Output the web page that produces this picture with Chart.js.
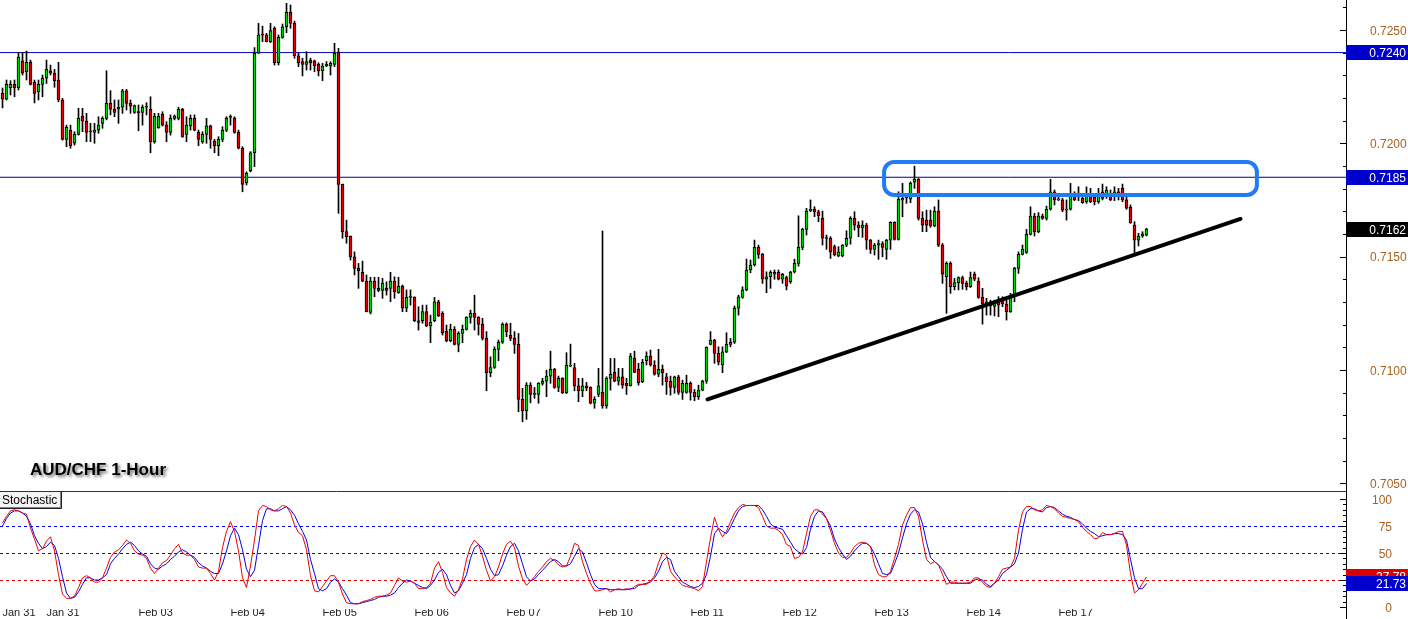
<!DOCTYPE html>
<html>
<head>
<meta charset="utf-8">
<title>AUD/CHF 1-Hour</title>
<script src="https://cdn.jsdelivr.net/npm/chart.js@4.4.0/dist/chart.umd.min.js"></script>
<style>
    html, body { margin: 0; padding: 0; background: #ffffff; }
    #wrap { position: relative; width: 1408px; height: 619px; overflow: hidden; }
    canvas { display: block; }
</style>
</head>
<body>
<div id="wrap">
    <canvas id="priceChart" width="1408" height="491"></canvas>
    <canvas id="stochChart" width="1408" height="128"></canvas>
</div>
<script>
// ---------------------------------------------
// AUD/CHF 1-HOUR BARS
// ---------------------------------------------
const openP = [
    .72220, .72195, .72245, .72260, .72245, .72364, .72316, .72357, .72269, .72227,
    .72260, .72287, .72319, .72309, .72279, .72191, .72017, .72058, .72000, .72039,
    .72120, .72098, .72051, .72048, .72058, .72088, .72110, .72176, .72150, .72150,
    .72159, .72231, .72176, .72136, .72136, .72136, .72159, .72150, .72007, .72069,
    .72128, .72080, .72048, .72110, .72110, .72150, .72039, .72077, .72110, .72048,
    .72007, .72039, .72077, .72010, .71989, .72017, .72058, .72114, .72110, .72048,
    .71978, .71826, .71879, .71958, .72397, .72478, .72478, .72448, .72507, .72355,
    .72467, .72514, .72578, .72529, .72386, .72360, .72348, .72367, .72364, .72348,
    .72319, .72341, .72341, .72348, .72401, .71819, .71610, .71591, .71499, .71448,
    .71431, .71392, .71254, .71392, .71360, .71351, .71360, .71360, .71392, .71341,
    .71370, .71272, .71320, .71320, .71217, .71217, .71257, .71194, .71217, .71301,
    .71250, .71172, .71129, .71179, .71113, .71161, .71179, .71232, .71250, .71232,
    .71201, .71139, .70988, .71011, .71091, .71122, .71201, .71154, .71139, .71113,
    .70870, .70820, .70933, .70892, .70892, .70941, .70951, .70973, .71003, .70923,
    .70963, .70899, .71017, .71011, .70930, .70908, .70930, .70923, .70853, .70892,
    .70901, .70841, .70963, .70989, .70951, .70970, .70941, .70930, .71051, .71003,
    .70948, .71041, .71061, .71022, .70981, .71003, .70970, .70951, .70923, .70970,
    .70901, .70901, .70941, .70901, .70882, .70911, .70951, .71113, .71132, .71073,
    .71022, .71080, .71113, .71122, .71272, .71320, .71353, .71441, .71463, .71541,
    .71510, .71400, .71411, .71422, .71431, .71400, .71407, .71389, .71432, .71470,
    .71541, .71620, .71701, .71709, .71698, .71669, .71581, .71581, .71544, .71503,
    .71503, .71551, .71581, .71669, .71639, .71627, .71639, .71573, .71532, .71551,
    .71558, .71532, .71573, .71651, .71576, .71749, .71760, .71753, .71828, .71841,
    .71669, .71661, .71661, .71635, .71701, .71551, .71411, .71470, .71367, .71385,
    .71407, .71382, .71367, .71423, .71392, .71320, .71282, .71301, .71280, .71308,
    .71308, .71291, .71257, .71323, .71448, .71510, .71519, .71598, .71679, .71610,
    .71679, .71669, .71709, .71786, .71750, .71751, .71705, .71709, .71779, .71764,
    .71757, .71742, .71779, .71764, .71742, .71786, .71764, .71779, .71764, .71786,
    .71801, .71750, .71717, .71639, .71573, .71591, .71595
];
const highP = [
    .72244, .72279, .72276, .72279, .72401, .72401, .72407, .72367, .72279, .72279,
    .72301, .72367, .72345, .72326, .72357, .72198, .72080, .72080, .72051, .72154,
    .72154, .72132, .72088, .72088, .72117, .72117, .72320, .72232, .72191, .72191,
    .72238, .72238, .72191, .72169, .72169, .72169, .72179, .72205, .72132, .72132,
    .72139, .72095, .72125, .72125, .72159, .72154, .72117, .72125, .72125, .72058,
    .72051, .72110, .72080, .72017, .72029, .72073, .72117, .72125, .72117, .72058,
    .71985, .71874, .71963, .72422, .72529, .72517, .72485, .72529, .72514, .72478,
    .72526, .72617, .72610, .72539, .72397, .72375, .72404, .72375, .72367, .72355,
    .72353, .72360, .72360, .72441, .72419, .71820, .71661, .71591, .71521, .71470,
    .71480, .71419, .71409, .71409, .71409, .71404, .71389, .71431, .71411, .71409,
    .71375, .71353, .71353, .71323, .71279, .71286, .71286, .71242, .71320, .71308,
    .71257, .71198, .71202, .71191, .71169, .71198, .71235, .71264, .71330, .71235,
    .71228, .71169, .71058, .71102, .71132, .71208, .71208, .71206, .71169, .71161,
    .70919, .70944, .70944, .70923, .70944, .70963, .70999, .71083, .71007, .70973,
    .70966, .71076, .71114, .71029, .70963, .70963, .70945, .70926, .70882, .71007,
    .71613, .70970, .71051, .71051, .71007, .71007, .70963, .71073, .71083, .71029,
    .71047, .71080, .71088, .71041, .71091, .71022, .70985, .70973, .70973, .70977,
    .70955, .70977, .70948, .70914, .70933, .70955, .71102, .71169, .71135, .71102,
    .71102, .71164, .71139, .71282, .71330, .71367, .71489, .71485, .71573, .71551,
    .71514, .71433, .71438, .71441, .71441, .71426, .71414, .71435, .71489, .71680,
    .71625, .71713, .71750, .71720, .71705, .71701, .71595, .71588, .71551, .71544,
    .71553, .71614, .71676, .71698, .71654, .71658, .71647, .71576, .71558, .71573,
    .71566, .71576, .71654, .71654, .71786, .71823, .71779, .71830, .71899, .71845,
    .71698, .71705, .71705, .71720, .71750, .71558, .71477, .71477, .71404, .71411,
    .71414, .71392, .71432, .71432, .71407, .71360, .71316, .71308, .71308, .71323,
    .71323, .71316, .71338, .71453, .71521, .71551, .71620, .71720, .71691, .71694,
    .71688, .71723, .71841, .71794, .71779, .71757, .71750, .71823, .71786, .71808,
    .71779, .71808, .71801, .71779, .71801, .71820, .71808, .71794, .71808, .71801,
    .71820, .71764, .71728, .71654, .71603, .71610, .71625
];
const lowP = [
    .72156, .72191, .72213, .72205, .72235, .72301, .72279, .72257, .72178, .72191,
    .72205, .72264, .72301, .72247, .72183, .72014, .71985, .71978, .71992, .72036,
    .72051, .72007, .72007, .72000, .72044, .72066, .72103, .72125, .72117, .72088,
    .72132, .72147, .72132, .72132, .72055, .72080, .72125, .71958, .72000, .72066,
    .72076, .72007, .72036, .72103, .72103, .72026, .72007, .72058, .72055, .71989,
    .72000, .72000, .71978, .71958, .71945, .72007, .72051, .72080, .72044, .71975,
    .71786, .71816, .71874, .71897, .72396, .72448, .72447, .72444, .72345, .72345,
    .72463, .72488, .72507, .72375, .72338, .72297, .72323, .72323, .72316, .72297,
    .72276, .72338, .72301, .72338, .71691, .71581, .71559, .71485, .71419, .71360,
    .71389, .71256, .71247, .71323, .71345, .71316, .71330, .71301, .71316, .71338,
    .71257, .71257, .71286, .71213, .71176, .71206, .71191, .71120, .71213, .71235,
    .71154, .71124, .71124, .71110, .71080, .71120, .71176, .71206, .71176, .71154,
    .71132, .70908, .70970, .71007, .71041, .71117, .71147, .71129, .71073, .70816,
    .70771, .70782, .70855, .70875, .70853, .70933, .70882, .70941, .70919, .70904,
    .70896, .70896, .71014, .70908, .70860, .70882, .70908, .70850, .70831, .70882,
    .70831, .70831, .70911, .70948, .70933, .70919, .70892, .70929, .70988, .70933,
    .70944, .71022, .71017, .70977, .70970, .70933, .70892, .70889, .70897, .70892,
    .70870, .70897, .70867, .70864, .70870, .70908, .70941, .71110, .71029, .71022,
    .70988, .71076, .71102, .71117, .71242, .71316, .71349, .71429, .71458, .71492,
    .71382, .71341, .71360, .71400, .71397, .71382, .71353, .71382, .71428, .71458,
    .71530, .71595, .71698, .71676, .71654, .71551, .71532, .71492, .71503, .71499,
    .71499, .71544, .71555, .71617, .71588, .71585, .71532, .71514, .71507, .71488,
    .71499, .71488, .71532, .71573, .71573, .71676, .71735, .71738, .71801, .71661,
    .71610, .71610, .71629, .71632, .71544, .71382, .71250, .71338, .71353, .71353,
    .71356, .71353, .71364, .71393, .71316, .71202, .71242, .71242, .71238, .71235,
    .71279, .71220, .71254, .71301, .71426, .71507, .71514, .71595, .71591, .71605,
    .71664, .71661, .71705, .71728, .71747, .71698, .71661, .71705, .71747, .71747,
    .71735, .71735, .71738, .71728, .71735, .71750, .71757, .71747, .71747, .71750,
    .71742, .71709, .71647, .71514, .71547, .71585, .71591
];
const closeP = [
    .72195, .72260, .72260, .72245, .72379, .72309, .72357, .72260, .72220, .72260,
    .72287, .72326, .72309, .72276, .72191, .72017, .72070, .71989, .72039, .72110,
    .72098, .72048, .72050, .72058, .72080, .72110, .72176, .72150, .72136, .72159,
    .72231, .72176, .72164, .72166, .72135, .72159, .72160, .72007, .72120, .72120,
    .72080, .72048, .72110, .72120, .72150, .72029, .72080, .72110, .72058, .72017,
    .72039, .72077, .72017, .71989, .72017, .72058, .72110, .72115, .72048, .71978,
    .71819, .71867, .71958, .72397, .72478, .72477, .72448, .72497, .72355, .72467,
    .72514, .72578, .72529, .72386, .72355, .72348, .72360, .72355, .72341, .72319,
    .72341, .72348, .72353, .72397, .71819, .71610, .71588, .71499, .71448, .71438,
    .71392, .71257, .71392, .71360, .71351, .71382, .71351, .71392, .71345, .71370,
    .71272, .71320, .71321, .71217, .71210, .71257, .71194, .71210, .71301, .71239,
    .71164, .71129, .71179, .71113, .71161, .71179, .71232, .71250, .71232, .71201,
    .71139, .70988, .71011, .71091, .71122, .71201, .71169, .71139, .71113, .70870,
    .70820, .70933, .70892, .70893, .70941, .70951, .70973, .71003, .70923, .70963,
    .70899, .71022, .71018, .70930, .70908, .70930, .70921, .70853, .70870, .70930,
    .70841, .70963, .70981, .70951, .70970, .70933, .70930, .71061, .70989, .70944,
    .71034, .71061, .71022, .70981, .71003, .70988, .70948, .70923, .70970, .70901,
    .70941, .70941, .70901, .70882, .70911, .70951, .71100, .71132, .71073, .71034,
    .71080, .71113, .71122, .71272, .71323, .71353, .71441, .71463, .71541, .71510,
    .71400, .71411, .71431, .71431, .71400, .71422, .71370, .71432, .71470, .71541,
    .71620, .71701, .71709, .71698, .71679, .71581, .71580, .71521, .71507, .71521,
    .71551, .71581, .71669, .71639, .71627, .71639, .71573, .71532, .71551, .71558,
    .71541, .71573, .71651, .71576, .71753, .71757, .71759, .71823, .71841, .71669,
    .71639, .71639, .71635, .71701, .71551, .71422, .71470, .71367, .71385, .71407,
    .71382, .71367, .71407, .71400, .71320, .71291, .71301, .71282, .71301, .71286,
    .71291, .71257, .71323, .71448, .71510, .71532, .71598, .71679, .71610, .71679,
    .71669, .71709, .71786, .71750, .71751, .71705, .71709, .71779, .71750, .71763,
    .71738, .71779, .71742, .71742, .71779, .71757, .71794, .71750, .71786, .71764,
    .71750, .71714, .71649, .71573, .71591, .71600, .71620
];

// Stochastic: main line (red) and signal line (blue)
const stochMain = [
    78, 84, 89, 90, 89, 87, 86, 73, 63, 52,   54, 61, 65, 52, 30, 12, 8, 8, 10, 18,
    27, 29, 27, 23, 23, 27, 36, 46, 51, 53,   57, 62, 59, 52, 49, 48, 45, 36, 31, 36,
    41, 43, 48, 54, 58, 50, 48, 48, 44, 37,   36, 36, 31, 25, 33, 55, 70, 79, 70, 52,
    27, 18, 38, 62, 89, 94, 93, 90, 89, 91,   94, 93, 87, 76, 69, 66, 53, 29, 15, 14,
    19, 24, 29, 29, 23, 12, 4, 3, 3, 3,       5, 6, 7, 9, 10, 10, 11, 13, 20, 27,
    24, 23, 24, 22, 17, 17, 18, 22, 36, 42,   32, 18, 13, 10, 16, 26, 44, 56, 62, 58,
    47, 34, 24, 28, 37, 49, 58, 61, 55, 38,   26, 20, 24, 28, 33, 37, 42, 45, 43, 39,
    37, 38, 47, 59, 57, 42, 31, 22, 15, 15,   16, 17, 14, 16, 17, 16, 17, 16, 19, 21,
    21, 21, 24, 29, 41, 50, 48, 33, 28, 24,   20, 19, 18, 17, 15, 19, 42, 64, 83, 72,
    65, 70, 79, 87, 92, 95, 94, 94, 94, 92,   84, 75, 73, 73, 71, 67, 58, 56, 45, 46,
    51, 68, 84, 90, 90, 86, 82, 71, 59, 50,   46, 46, 50, 56, 59, 60, 59, 56, 39, 30,
    28, 28, 33, 45, 58, 76, 85, 92, 92, 84,   62, 44, 40, 42, 39, 30, 21, 23, 23, 22,
    22, 22, 23, 27, 27, 23, 19, 18, 22, 28,   35, 36, 37, 45, 71, 88, 93, 93, 90, 89,
    90, 94, 93, 91, 87, 84, 83, 82, 81, 79,   74, 70, 67, 63, 64, 69, 67, 67, 68, 70,
    70, 57, 31, 13, 16, 22, 27.78
];
const stochSignal = [
    75, 82, 87, 89, 89, 87, 84, 77, 66, 59,   54, 56, 60, 57, 45, 28, 13, 8, 9, 14,
    21, 27, 27, 25, 25, 27, 30, 40, 45, 49,   54, 58, 60, 57, 52, 49, 47, 40, 36, 35,
    38, 40, 44, 47, 51, 53, 51, 48, 46, 41,   38, 36, 33, 31, 31, 40, 52, 66, 73, 67,
    53, 35, 28, 34, 57, 80, 91, 91, 89, 89,   91, 93, 90, 85, 77, 70, 62, 44, 31, 17,
    15, 17, 23, 26, 23, 17, 11, 4, 3, 3,      4, 5, 6, 7, 9, 10, 10, 11, 13, 18,
    22, 25, 24, 22, 20, 18, 17, 20, 25, 32,   35, 30, 20, 13, 15, 22, 30, 45, 55, 58,
    54, 45, 35, 29, 30, 38, 48, 56, 59, 52,   40, 28, 24, 26, 30, 34, 38, 42, 44, 42,
    38, 38, 40, 47, 54, 51, 41, 30, 21, 17,   17, 17, 16, 16, 16, 16, 16, 17, 17, 20,
    21, 22, 23, 27, 33, 42, 46, 44, 33, 28,   23, 21, 19, 18, 19, 22, 30, 47, 68, 73,
    70, 68, 74, 82, 89, 93, 94, 94, 94, 94,   90, 84, 77, 74, 73, 72, 66, 60, 54, 51,
    49, 55, 72, 84, 89, 88, 82, 75, 63, 55,   49, 44, 47, 52, 56, 59, 59, 56, 49, 40,
    31, 30, 31, 40, 50, 64, 77, 86, 90, 88,   77, 60, 46, 42, 39, 35, 28, 22, 22, 22,
    22, 22, 22, 25, 26, 25, 21, 19, 22, 25,   31, 34, 37, 40, 50, 72, 88, 91, 91, 89,
    88, 92, 93, 92, 89, 86, 84, 83, 81, 80,   77, 73, 70, 68, 65, 66, 67, 67, 68, 68,
    67, 62, 44, 27, 17, 17, 21.73
];

// bottom axis: bar where each date label starts
const dateBars = [0, 11, 34, 57, 80, 103, 126, 149, 172, 195, 218, 241, 264];
const dateLabels = ["Jan 31", "Jan 31", "Feb 03", "Feb 04", "Feb 05", "Feb 06", "Feb 07",
                    "Feb 10", "Feb 11", "Feb 12", "Feb 13", "Feb 14", "Feb 17"];

const priceTicks = [0.7050, 0.7100, 0.7150, 0.7200, 0.7250];
const stochTicks = [0, 25, 50, 75, 100];
const stochLevels = [75, 50, 25];

// drawn objects
const levelLines = [0.7240, 0.7185];
const lastPrice = 0.7162;
const trendStart = { bar: 176.25, price: 0.70870 };
const trendEnd = { bar: 309.5, price: 0.71666 };
const zone = { fromBar: 220.4, toBar: 313.6, low: 0.71772, high: 0.71917 };

// ---------------------------------------------
// VIEW SETTINGS
// ---------------------------------------------
const barMin = -0.625, barMax = 335.875;
const priceMin = 0.70466, priceMax = 0.72632;
const stochMin = -1.85, stochMax = 107.41;

const FONT = '"Liberation Sans", Arial, sans-serif';
const axisText = "#a8621f";
const upColor = "#00d000";
const downColor = "#e00000";

const bars = openP.map((_, i) => i);

function drawTicks(ctx, scale, values, isMajor, x) {
    ctx.save();
    ctx.strokeStyle = "#000";
    ctx.lineWidth = 1;
    values.forEach(v => {
        const y = Math.round(scale.getPixelForValue(v)) + 0.5;
        const len = isMajor(v) ? 6 : 3;
        ctx.beginPath();
        ctx.moveTo(x - len, y);
        ctx.lineTo(x, y);
        ctx.stroke();
    });
    ctx.restore();
}

function axisLabels(ctx, scale, values, fmt, x, align) {
    ctx.save();
    ctx.fillStyle = axisText;
    ctx.font = "12px " + FONT;
    ctx.textAlign = align;
    ctx.textBaseline = "middle";
    values.forEach(v => ctx.fillText(fmt(v), x, scale.getPixelForValue(v) + 1.5));
    ctx.restore();
}

function valueBox(ctx, y, h, bg, text) {
    ctx.save();
    ctx.fillStyle = bg;
    ctx.fillRect(1346, Math.round(y - h / 2), 62, h);
    ctx.fillStyle = "#ffffff";
    ctx.font = "12px " + FONT;
    ctx.textAlign = "right";
    ctx.textBaseline = "middle";
    ctx.fillText(text, 1406, y + 1);
    ctx.restore();
}

// ---------------------------------------------
// PRICE PANEL DECORATION
// ---------------------------------------------
const priceDecor = {
    id: "priceDecor",
    afterDatasetsDraw(chart) {
        const { ctx, scales: { x, y } } = chart;
        // resistance zone
        const x0 = x.getPixelForValue(zone.fromBar), x1 = x.getPixelForValue(zone.toBar);
        const y0 = y.getPixelForValue(zone.high), y1 = y.getPixelForValue(zone.low);
        ctx.save();
        ctx.strokeStyle = "#1f7cf5";
        ctx.lineWidth = 4;
        ctx.beginPath();
        ctx.roundRect(x0, y0, x1 - x0, y1 - y0, 10);
        ctx.stroke();
        ctx.restore();

        // title
        ctx.save();
        ctx.font = "bold 17px " + FONT;
        ctx.textBaseline = "alphabetic";
        ctx.shadowColor = "rgba(0,0,0,0.55)";
        ctx.shadowBlur = 3;
        ctx.shadowOffsetX = 2;
        ctx.shadowOffsetY = 2;
        ctx.fillStyle = "#000";
        ctx.fillText("AUD/CHF 1-Hour", 30, 475);
        ctx.restore();
    },
    afterDraw(chart) {
        const { ctx, scales: { y } } = chart;
        ctx.save();
        ctx.strokeStyle = "#000";
        ctx.beginPath();
        ctx.moveTo(1346.5, 0);
        ctx.lineTo(1346.5, 491);
        ctx.stroke();
        ctx.restore();
        const minor = [];
        for (let k = 705; k <= 726; k++) minor.push(k / 1000);
        drawTicks(ctx, y, minor, v => Math.round(v * 1000) % 5 === 0, 1346);
        axisLabels(ctx, y, priceTicks, v => v.toFixed(4), 1370, "left");
        valueBox(ctx, y.getPixelForValue(levelLines[0]), 15, "#0000cc", levelLines[0].toFixed(4));
        valueBox(ctx, y.getPixelForValue(levelLines[1]), 15, "#0000cc", levelLines[1].toFixed(4));
        valueBox(ctx, y.getPixelForValue(lastPrice), 15, "#000000", lastPrice.toFixed(4));
    }
};

// ---------------------------------------------
// STOCHASTIC PANEL DECORATION
// ---------------------------------------------
const stochDecor = {
    id: "stochDecor",
    beforeDatasetsDraw(chart) {
        const { ctx, chartArea, scales: { y } } = chart;
        const colors = { 75: "#0000ff", 50: "#222222", 25: "#e00000" };
        ctx.save();
        ctx.lineWidth = 1;
        ctx.setLineDash([3, 3]);
        stochLevels.forEach(v => {
            const py = Math.round(y.getPixelForValue(v)) + 0.5;
            ctx.strokeStyle = colors[v];
            ctx.beginPath();
            ctx.moveTo(chartArea.left, py);
            ctx.lineTo(chartArea.right - 4, py);
            ctx.stroke();
        });
        ctx.restore();
    },
    afterDraw(chart) {
        const { ctx, scales: { y } } = chart;
        ctx.save();
        ctx.strokeStyle = "#333";
        ctx.lineWidth = 1;
        ctx.beginPath();
        ctx.moveTo(0, 0.5);
        ctx.lineTo(1346, 0.5);
        ctx.stroke();
        ctx.strokeStyle = "#000";
        ctx.beginPath();
        ctx.moveTo(1346.5, 0);
        ctx.lineTo(1346.5, 128);
        ctx.stroke();

        // indicator name tag
        ctx.fillStyle = "#f4f4f4";
        ctx.fillRect(0, 1, 61, 16);
        ctx.strokeStyle = "#808080";
        ctx.beginPath();
        ctx.moveTo(60.5, 1); ctx.lineTo(60.5, 16.5); ctx.lineTo(0, 16.5);
        ctx.stroke();
        ctx.strokeStyle = "#202020";
        ctx.beginPath();
        ctx.moveTo(61.5, 1); ctx.lineTo(61.5, 17.5); ctx.lineTo(0, 17.5);
        ctx.stroke();
        ctx.fillStyle = "#000";
        ctx.font = "12px " + FONT;
        ctx.textBaseline = "alphabetic";
        ctx.fillText("Stochastic", 2, 13);
        ctx.restore();

        const minor = [];
        for (let v = 0; v <= 100; v += 5) minor.push(v);
        drawTicks(ctx, y, minor, v => v % 25 === 0, 1346);
        axisLabels(ctx, y, stochTicks, v => String(v), 1392, "right");
        const lastMain = stochMain[stochMain.length - 1];
        const lastSignal = stochSignal[stochSignal.length - 1];
        valueBox(ctx, y.getPixelForValue(lastMain), 15, "#dd0000", lastMain.toFixed(2));
        valueBox(ctx, y.getPixelForValue(lastSignal), 15, "#0000cc", lastSignal.toFixed(2));
    }
};

// ---------------------------------------------
// PRICE CHART
// ---------------------------------------------
function initPriceChart() {
    const hLine = (level, color) => ({
        type: "line",
        data: [{ x: barMin, y: level }, { x: barMax, y: level }],
        borderColor: color,
        borderWidth: 1,
        pointRadius: 0,
        order: 5
    });

    new Chart(document.getElementById("priceChart"), {
        type: "bar",
        data: {
            datasets: [
                hLine(levelLines[0], "#0000cc"),
                hLine(levelLines[1], "#00008b"),
                {
                    label: "wicks",
                    data: bars.map(i => ({ x: i, y: [lowP[i], highP[i]] })),
                    backgroundColor: "#000",
                    borderWidth: 0,
                    barThickness: 1,
                    grouped: false,
                    order: 3
                },
                {
                    label: "bodies",
                    data: bars.map(i => ({ x: i, y: [openP[i], closeP[i]] })),
                    backgroundColor: bars.map(i => closeP[i] >= openP[i] ? upColor : downColor),
                    borderColor: "#000",
                    borderWidth: 1,
                    borderSkipped: false,
                    barThickness: 3,
                    minBarLength: 1,
                    grouped: false,
                    order: 2
                },
                {
                    type: "line",
                    label: "trend",
                    data: [{ x: trendStart.bar, y: trendStart.price }, { x: trendEnd.bar, y: trendEnd.price }],
                    borderColor: "#000",
                    borderWidth: 4,
                    borderCapStyle: "round",
                    pointRadius: 0,
                    order: 0
                }
            ]
        },
        options: {
            responsive: false,
            animation: false,
            devicePixelRatio: 1,
            events: [],
            layout: { padding: 0 },
            plugins: { legend: { display: false }, tooltip: { enabled: false } },
            scales: {
                x: {
                    type: "linear",
                    min: barMin,
                    max: barMax,
                    offset: false,
                    display: false
                },
                y: {
                    position: "right",
                    min: priceMin,
                    max: priceMax,
                    grid: { display: false, drawTicks: false },
                    border: { display: false },
                    afterBuildTicks: s => { s.ticks = priceTicks.map(v => ({ value: v })); },
                    afterFit: s => { s.width = 62; s.paddingTop = 0; s.paddingBottom = 0; },
                    ticks: { display: false }
                }
            }
        },
        plugins: [priceDecor]
    });
}

// ---------------------------------------------
// STOCHASTIC CHART
// ---------------------------------------------
function initStochChart() {
    new Chart(document.getElementById("stochChart"), {
        type: "line",
        data: {
            datasets: [
                {
                    label: "Main",
                    data: bars.map(i => ({ x: i, y: stochMain[i] })),
                    borderColor: "#ee0000",
                    borderWidth: 1,
                    pointRadius: 0,
                    tension: 0
                },
                {
                    label: "Signal",
                    data: bars.map(i => ({ x: i, y: stochSignal[i] })),
                    borderColor: "#0000ee",
                    borderWidth: 1,
                    pointRadius: 0,
                    tension: 0
                }
            ]
        },
        options: {
            responsive: false,
            animation: false,
            devicePixelRatio: 1,
            events: [],
            layout: { padding: 0 },
            plugins: { legend: { display: false }, tooltip: { enabled: false } },
            scales: {
                x: {
                    type: "linear",
                    min: barMin,
                    max: barMax,
                    offset: false,
                    grid: { display: false, drawTicks: false },
                    border: { display: false },
                    afterBuildTicks: s => { s.ticks = dateBars.map(v => ({ value: v })); },
                    afterFit: s => { s.height = 10; s.paddingLeft = 0; s.paddingRight = 0; },
                    ticks: {
                        autoSkip: false,
                        maxRotation: 0,
                        align: "start",
                        padding: -3,
                        color: "#222",
                        font: { family: FONT, size: 11 },
                        callback: (v, idx) => dateLabels[idx]
                    }
                },
                y: {
                    position: "right",
                    min: stochMin,
                    max: stochMax,
                    grid: { display: false, drawTicks: false },
                    border: { display: false },
                    afterBuildTicks: s => { s.ticks = stochTicks.map(v => ({ value: v })); },
                    afterFit: s => { s.width = 62; s.paddingTop = 0; s.paddingBottom = 0; },
                    ticks: { display: false }
                }
            }
        },
        plugins: [stochDecor]
    });
}

document.addEventListener("DOMContentLoaded", () => {
    initPriceChart();
    initStochChart();
});
</script>
</body>
</html>
